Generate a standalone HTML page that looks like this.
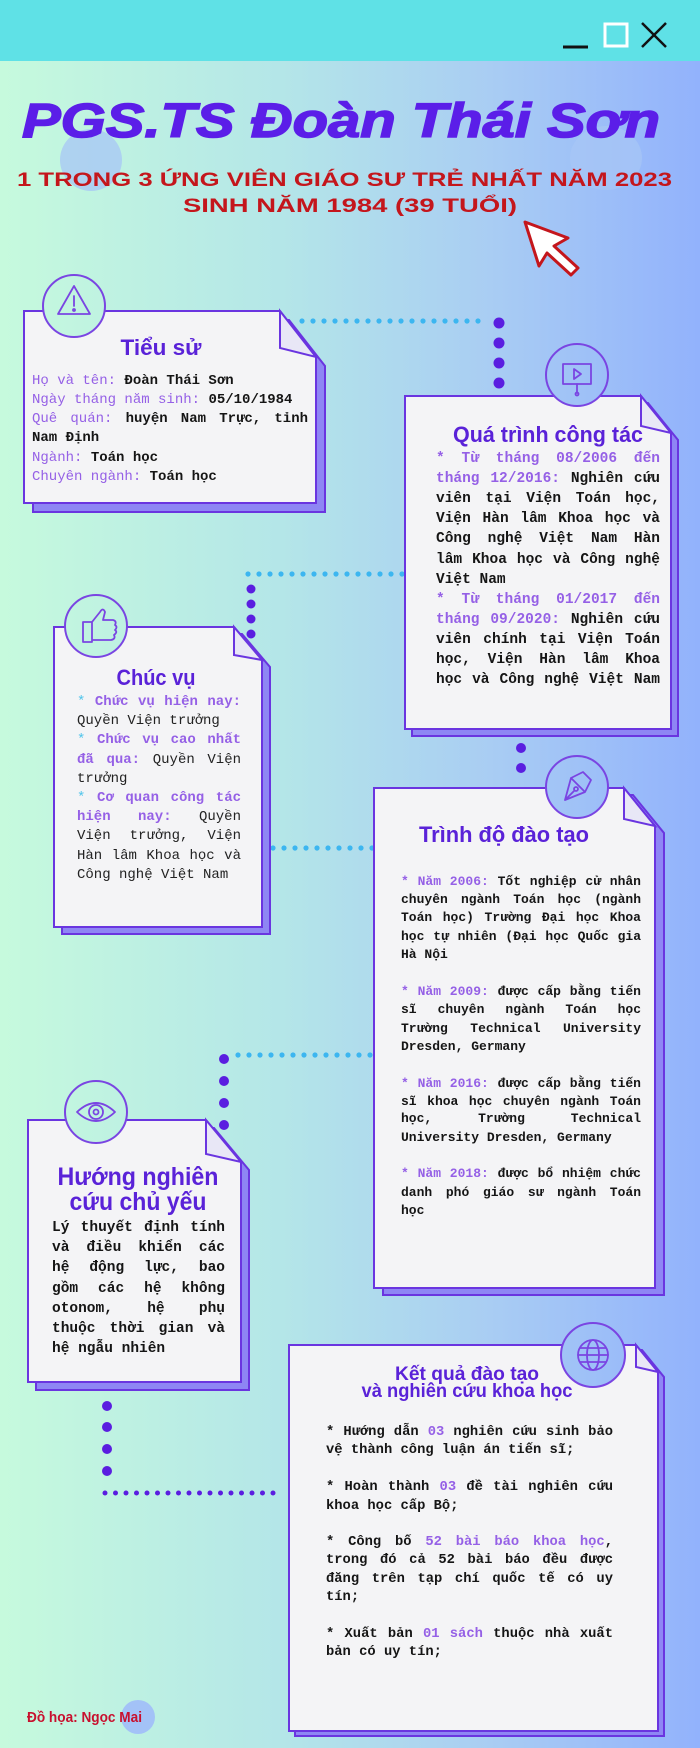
<!DOCTYPE html>
<html><head><meta charset="utf-8">
<style>
*{margin:0;padding:0;box-sizing:border-box}
html,body{width:700px;height:1748px;overflow:hidden}
body{position:relative;background:linear-gradient(90deg,#c6fadd 0%,#b4e6e8 40%,#a9cdf3 70%,#92b2fc 100%)}
svg{position:absolute;left:0;top:0}
.c{position:absolute;font-family:"Liberation Mono","DejaVu Sans Mono",monospace;color:#151515}
.c div{position:absolute;left:0;height:20px;line-height:20px;white-space:normal}
.j{text-align:justify;text-align-last:justify}
.p{color:#9560e6}
.q{color:#4cc3ea}
.b{font-weight:bold}
</style></head><body>
<svg width="700" height="1748" viewBox="0 0 700 1748">
<defs>
<linearGradient id="bg" gradientUnits="userSpaceOnUse" x1="0" y1="0" x2="700" y2="0">
<stop offset="0" stop-color="#c6fadd"/><stop offset="0.4" stop-color="#b4e6e8"/><stop offset="0.7" stop-color="#a9cdf3"/><stop offset="1" stop-color="#92b2fc"/>
</linearGradient>
</defs>
<rect x="0" y="0" width="700" height="61" fill="#5fe1e6"/>
<line x1="563" y1="47" x2="588" y2="47" stroke="#111" stroke-width="3"/>
<rect x="605" y="24" width="22" height="22" fill="none" stroke="#fff" stroke-width="3"/>
<line x1="642" y1="23" x2="666" y2="47" stroke="#111" stroke-width="2.5"/>
<line x1="666" y1="23" x2="642" y2="47" stroke="#111" stroke-width="2.5"/>
<ellipse cx="91" cy="160" rx="31" ry="31" fill="#a7c6f6" opacity="0.75"/>
<ellipse cx="606" cy="158" rx="36" ry="32" fill="#a7c6f6" opacity="0.75"/>
<text x="22" y="137" textLength="638" lengthAdjust="spacingAndGlyphs" font-family="Liberation Sans" font-weight="bold" font-style="italic" font-size="48" fill="#5b1ee8" stroke="#5b1ee8" stroke-width="1.5">PGS.TS Đoàn Thái Sơn</text>
<text x="17" y="186" textLength="655" lengthAdjust="spacingAndGlyphs" font-family="Liberation Sans" font-weight="bold" font-size="19" fill="#c4161c">1 TRONG 3 ỨNG VIÊN GIÁO SƯ TRẺ NHẤT NĂM 2023</text>
<text x="183" y="212" textLength="334" lengthAdjust="spacingAndGlyphs" font-family="Liberation Sans" font-weight="bold" font-size="19" fill="#c4161c">SINH NĂM 1984 (39 TUỔI)</text>
<polygon points="525,222 568,238 554,246 578,268 571,275 547,253 539,266" fill="#fff" stroke="#c4161c" stroke-width="3" stroke-linejoin="round"/>

<g id="dots">
<!-- connector1 -->
<g fill="#3cb6f0">
<circle cx="302" cy="321" r="2.6"/><circle cx="313" cy="321" r="2.6"/><circle cx="324" cy="321" r="2.6"/><circle cx="335" cy="321" r="2.6"/><circle cx="346" cy="321" r="2.6"/><circle cx="357" cy="321" r="2.6"/><circle cx="368" cy="321" r="2.6"/><circle cx="379" cy="321" r="2.6"/><circle cx="390" cy="321" r="2.6"/><circle cx="401" cy="321" r="2.6"/><circle cx="412" cy="321" r="2.6"/><circle cx="423" cy="321" r="2.6"/><circle cx="434" cy="321" r="2.6"/><circle cx="445" cy="321" r="2.6"/><circle cx="456" cy="321" r="2.6"/><circle cx="467" cy="321" r="2.6"/><circle cx="478" cy="321" r="2.6"/>
<circle cx="248" cy="574" r="2.6"/><circle cx="259" cy="574" r="2.6"/><circle cx="270" cy="574" r="2.6"/><circle cx="281" cy="574" r="2.6"/><circle cx="292" cy="574" r="2.6"/><circle cx="303" cy="574" r="2.6"/><circle cx="314" cy="574" r="2.6"/><circle cx="325" cy="574" r="2.6"/><circle cx="336" cy="574" r="2.6"/><circle cx="347" cy="574" r="2.6"/><circle cx="358" cy="574" r="2.6"/><circle cx="369" cy="574" r="2.6"/><circle cx="380" cy="574" r="2.6"/><circle cx="391" cy="574" r="2.6"/><circle cx="402" cy="574" r="2.6"/>
<circle cx="273" cy="848" r="2.6"/><circle cx="284" cy="848" r="2.6"/><circle cx="295" cy="848" r="2.6"/><circle cx="306" cy="848" r="2.6"/><circle cx="317" cy="848" r="2.6"/><circle cx="328" cy="848" r="2.6"/><circle cx="339" cy="848" r="2.6"/><circle cx="350" cy="848" r="2.6"/><circle cx="361" cy="848" r="2.6"/><circle cx="372" cy="848" r="2.6"/>
<circle cx="238" cy="1055" r="2.6"/><circle cx="249" cy="1055" r="2.6"/><circle cx="260" cy="1055" r="2.6"/><circle cx="271" cy="1055" r="2.6"/><circle cx="282" cy="1055" r="2.6"/><circle cx="293" cy="1055" r="2.6"/><circle cx="304" cy="1055" r="2.6"/><circle cx="315" cy="1055" r="2.6"/><circle cx="326" cy="1055" r="2.6"/><circle cx="337" cy="1055" r="2.6"/><circle cx="348" cy="1055" r="2.6"/><circle cx="359" cy="1055" r="2.6"/><circle cx="370" cy="1055" r="2.6"/>
</g>
<g fill="#5a1ee0">
<circle cx="499" cy="323" r="5.5"/><circle cx="499" cy="343" r="5.5"/><circle cx="499" cy="363" r="5.5"/><circle cx="499" cy="383" r="5.5"/>
<circle cx="251" cy="589" r="4.5"/><circle cx="251" cy="604" r="4.5"/><circle cx="251" cy="619" r="4.5"/><circle cx="251" cy="634" r="4.5"/>
<circle cx="521" cy="748" r="5"/><circle cx="521" cy="768" r="5"/>
<circle cx="224" cy="1059" r="5"/><circle cx="224" cy="1081" r="5"/><circle cx="224" cy="1103" r="5"/><circle cx="224" cy="1125" r="5"/>
<circle cx="107" cy="1406" r="5"/><circle cx="107" cy="1427" r="5"/><circle cx="107" cy="1449" r="5"/><circle cx="107" cy="1471" r="5"/>
<circle cx="105" cy="1493" r="2.5"/><circle cx="115.5" cy="1493" r="2.5"/><circle cx="126" cy="1493" r="2.5"/><circle cx="136.5" cy="1493" r="2.5"/><circle cx="147" cy="1493" r="2.5"/><circle cx="157.5" cy="1493" r="2.5"/><circle cx="168" cy="1493" r="2.5"/><circle cx="178.5" cy="1493" r="2.5"/><circle cx="189" cy="1493" r="2.5"/><circle cx="199.5" cy="1493" r="2.5"/><circle cx="210" cy="1493" r="2.5"/><circle cx="220.5" cy="1493" r="2.5"/><circle cx="231" cy="1493" r="2.5"/><circle cx="241.5" cy="1493" r="2.5"/><circle cx="252" cy="1493" r="2.5"/><circle cx="262.5" cy="1493" r="2.5"/><circle cx="273" cy="1493" r="2.5"/>
</g>
</g>

<!-- Cards: shadow, body, fold, circle -->
<g stroke="#6a35e0" stroke-width="2" stroke-linejoin="miter">
<!-- C1 -->
<polygon points="33,320 289,320 325,366 325,512 33,512" fill="#8e86f4"/>
<polygon points="24,311 280,311 316,357 316,503 24,503" fill="#f4f4f6"/>
<polygon points="280,311 280,348 316,357" fill="#e8e7f6"/>
<!-- C2 -->
<polygon points="412,403 648,403 678,440 678,736 412,736" fill="#8e86f4"/>
<polygon points="405,396 641,396 671,433 671,729 405,729" fill="#f4f4f6"/>
<polygon points="641,396 641,426 671,433" fill="#e8e7f6"/>
<!-- C3 -->
<polygon points="62,634 242,634 270,667 270,934 62,934" fill="#8e86f4"/>
<polygon points="54,627 234,627 262,660 262,927 54,927" fill="#f4f4f6"/>
<polygon points="234,627 234,655 262,660" fill="#e8e7f6"/>
<!-- C4 -->
<polygon points="383,795 633,795 664,833 664,1295 383,1295" fill="#8e86f4"/>
<polygon points="374,788 624,788 655,826 655,1288 374,1288" fill="#f4f4f6"/>
<polygon points="624,788 624,819 655,826" fill="#e8e7f6"/>
<!-- C5 -->
<polygon points="36,1128 214,1128 249,1170 249,1390 36,1390" fill="#8e86f4"/>
<polygon points="28,1120 206,1120 241,1162 241,1382 28,1382" fill="#f4f4f6"/>
<polygon points="206,1120 206,1154 241,1162" fill="#e8e7f6"/>
<!-- C6 -->
<polygon points="295,1350 642,1350 664,1377 664,1736 295,1736" fill="#8e86f4"/>
<polygon points="289,1345 636,1345 658,1372 658,1731 289,1731" fill="#f4f4f6"/>
<polygon points="636,1345 636,1367 658,1372" fill="#e8e7f6"/>
</g>
<g fill="url(#bg)" stroke="#7a45e2" stroke-width="2">
<circle cx="74" cy="306" r="31"/>
<circle cx="577" cy="375" r="31"/>
<circle cx="96" cy="626" r="31"/>
<circle cx="577" cy="787" r="31"/>
<circle cx="96" cy="1112" r="31"/>
<circle cx="593" cy="1355" r="32"/>
</g>
<!-- icons -->
<g fill="none" stroke="#7a45e2" stroke-width="1.8" stroke-linejoin="round" stroke-linecap="round">
<polygon points="74,286 58,314 90,314"/><line x1="74" y1="296" x2="74" y2="306"/><circle cx="74" cy="310" r="1"/>
<rect x="563" y="364" width="28" height="20"/><line x1="577" y1="384" x2="577" y2="393"/><circle cx="577" cy="394" r="1.5"/><polygon points="574,369 581,374 574,379"/>
<path d="M83,622 h9 v20 h-9 z M92,622 l8,-10 q3,-5 5,0 l-2,8 h10 q4,1 2,5 q3,2 0,5 q3,2 -1,5 q2,4 -3,5 h-19"/>
<path d="M565,800 l6,-22 l12,-6 l8,8 l-6,12 z M565,800 l9,-9 M571,778 l14,14"/><circle cx="576" cy="789" r="2"/>
<path d="M77,1112 q19,-18 38,0 q-19,18 -38,0 z"/><circle cx="96" cy="1112" r="7"/><circle cx="96" cy="1112" r="2.5"/>
<circle cx="593" cy="1355" r="15"/><ellipse cx="593" cy="1355" rx="6" ry="15"/><line x1="578" y1="1355" x2="608" y2="1355"/><line x1="580" y1="1348" x2="606" y2="1348"/><line x1="580" y1="1362" x2="606" y2="1362"/>
</g>
<!-- titles -->
<g font-family="Liberation Sans Narrow, Liberation Sans, sans-serif" font-weight="bold" fill="#5a22d8" text-anchor="middle">
<text x="161" y="355" font-size="22" textLength="81" lengthAdjust="spacingAndGlyphs">Tiểu sử</text>
<text x="548" y="442" font-size="22" textLength="190" lengthAdjust="spacingAndGlyphs">Quá trình công tác</text>
<text x="156" y="685" font-size="22" textLength="79" lengthAdjust="spacingAndGlyphs">Chúc vụ</text>
<text x="504" y="842" font-size="22" textLength="170" lengthAdjust="spacingAndGlyphs">Trình độ đào tạo</text>
<text x="138" y="1185" font-size="25" textLength="161" lengthAdjust="spacingAndGlyphs">Hướng nghiên</text>
<text x="138" y="1210" font-size="25" textLength="137" lengthAdjust="spacingAndGlyphs">cứu chủ yếu</text>
<text x="467" y="1380" font-size="19" textLength="144" lengthAdjust="spacingAndGlyphs">Kết quả đào tạo</text>
<text x="467" y="1397" font-size="19" textLength="211" lengthAdjust="spacingAndGlyphs">và nghiên cứu khoa học</text>
</g>
<circle cx="138" cy="1717" r="17" fill="#a3c2f7"/>
<text x="27" y="1722" textLength="115" lengthAdjust="spacingAndGlyphs" font-family="Liberation Sans Narrow, Liberation Sans, sans-serif" font-weight="bold" font-size="15" fill="#c8102e">Đồ họa: Ngọc Mai</text>
</svg>

<!-- Card1 text -->
<div class="c" style="left:32px;top:0;width:276px;font-size:14px">
<div style="top:371px;width:276px"><span class="p">Họ và tên:</span> <span class="b">Đoàn Thái Sơn</span></div>
<div style="top:390px;width:276px"><span class="p">Ngày tháng năm sinh:</span> <span class="b">05/10/1984</span></div>
<div class="j" style="top:409px;width:276px"><span class="p">Quê quán:</span> <span class="b">huyện Nam Trực, tỉnh</span></div>
<div class="b" style="top:428px;width:276px">Nam Định</div>
<div style="top:448px;width:276px"><span class="p">Ngành:</span> <span class="b">Toán học</span></div>
<div style="top:467px;width:276px"><span class="p">Chuyên ngành:</span> <span class="b">Toán học</span></div>
</div>

<!-- Card2 text -->
<div class="c b" style="left:436px;top:0;font-size:14.5px">
<div class="j p" style="top:449px;width:224px">* Từ tháng 08/2006 đến</div>
<div class="j" style="top:469px;width:224px"><span class="p">tháng 12/2016:</span> Nghiên cứu</div>
<div class="j" style="top:489px;width:224px">viên tại Viện Toán học,</div>
<div class="j" style="top:509px;width:224px">Viện Hàn lâm Khoa học và</div>
<div class="j" style="top:529px;width:224px">Công nghệ Việt Nam Hàn</div>
<div class="j" style="top:550px;width:224px">lâm Khoa học và Công nghệ</div>
<div style="top:570px;width:224px">Việt Nam</div>
<div class="j p" style="top:590px;width:224px">* Từ tháng 01/2017 đến</div>
<div class="j" style="top:610px;width:224px"><span class="p">tháng 09/2020:</span> Nghiên cứu</div>
<div class="j" style="top:630px;width:224px">viên chính tại Viện Toán</div>
<div class="j" style="top:650px;width:224px">học, Viện Hàn lâm Khoa</div>
<div class="j" style="top:670px;width:224px">học và Công nghệ Việt Nam</div>
</div>

<!-- Card3 text -->
<div class="c" style="left:77px;top:0;font-size:14px;color:#222">
<div class="j" style="top:692px;width:164px"><span class="q">*</span> <span class="p b">Chức vụ hiện nay:</span></div>
<div style="top:711px;width:164px">Quyền Viện trưởng</div>
<div class="j" style="top:730px;width:164px"><span class="q">*</span> <span class="p b">Chức vụ cao nhất</span></div>
<div class="j" style="top:750px;width:164px"><span class="p b">đã qua:</span> Quyền Viện</div>
<div style="top:769px;width:164px">trưởng</div>
<div class="j" style="top:788px;width:164px"><span class="q">*</span> <span class="p b">Cơ quan công tác</span></div>
<div class="j" style="top:807px;width:164px"><span class="p b">hiện nay:</span> Quyền</div>
<div class="j" style="top:826px;width:164px">Viện trưởng, Viện</div>
<div class="j" style="top:846px;width:164px">Hàn lâm Khoa học và</div>
<div style="top:865px;width:164px">Công nghệ Việt Nam</div>
</div>

<!-- Card4 text -->
<div class="c b" style="left:401px;top:0;font-size:13px">
<div class="j" style="top:872px;width:240px"><span class="p">* Năm 2006:</span> Tốt nghiệp cử nhân</div>
<div class="j" style="top:890px;width:240px">chuyên ngành Toán học (ngành</div>
<div class="j" style="top:908px;width:240px">Toán học) Trường Đại học Khoa</div>
<div class="j" style="top:927px;width:240px">học tự nhiên (Đại học Quốc gia</div>
<div style="top:945px;width:240px">Hà Nội</div>
<div class="j" style="top:982px;width:240px"><span class="p">* Năm 2009:</span> được cấp bằng tiến</div>
<div class="j" style="top:1000px;width:240px">sĩ chuyên ngành Toán học</div>
<div class="j" style="top:1019px;width:240px">Trường Technical University</div>
<div style="top:1037px;width:240px">Dresden, Germany</div>
<div class="j" style="top:1074px;width:240px"><span class="p">* Năm 2016:</span> được cấp bằng tiến</div>
<div class="j" style="top:1092px;width:240px">sĩ khoa học chuyên ngành Toán</div>
<div class="j" style="top:1109px;width:240px">học, Trường Technical</div>
<div style="top:1128px;width:240px">University Dresden, Germany</div>
<div class="j" style="top:1164px;width:240px"><span class="p">* Năm 2018:</span> được bổ nhiệm chức</div>
<div class="j" style="top:1183px;width:240px">danh phó giáo sư ngành Toán</div>
<div style="top:1201px;width:240px">học</div>
</div>

<!-- Card5 text -->
<div class="c b" style="left:52px;top:0;font-size:14.5px">
<div class="j" style="top:1218px;width:173px">Lý thuyết định tính</div>
<div class="j" style="top:1238px;width:173px">và điều khiển các</div>
<div class="j" style="top:1258px;width:173px">hệ động lực, bao</div>
<div class="j" style="top:1279px;width:173px">gồm các hệ không</div>
<div class="j" style="top:1299px;width:173px">otonom, hệ phụ</div>
<div class="j" style="top:1319px;width:173px">thuộc thời gian và</div>
<div style="top:1339px;width:173px">hệ ngẫu nhiên</div>
</div>

<!-- Card6 text -->
<div class="c b" style="left:326px;top:0;font-size:13.8px">
<div class="j" style="top:1423px;width:287px">* Hướng dẫn <span class="p">03</span> nghiên cứu sinh bảo</div>
<div style="top:1441px;width:287px">vệ thành công luận án tiến sĩ;</div>
<div class="j" style="top:1478px;width:287px">* Hoàn thành <span class="p">03</span> đề tài nghiên cứu</div>
<div style="top:1497px;width:287px">khoa học cấp Bộ;</div>
<div class="j" style="top:1533px;width:287px">* Công bố <span class="p">52 bài báo khoa học</span>,</div>
<div class="j" style="top:1551px;width:287px">trong đó cả 52 bài báo đều được</div>
<div class="j" style="top:1570px;width:287px">đăng trên tạp chí quốc tế có uy</div>
<div style="top:1588px;width:287px">tín;</div>
<div class="j" style="top:1625px;width:287px">* Xuất bản <span class="p">01 sách</span> thuộc nhà xuất</div>
<div style="top:1643px;width:287px">bản có uy tín;</div>
</div>
</body></html>
